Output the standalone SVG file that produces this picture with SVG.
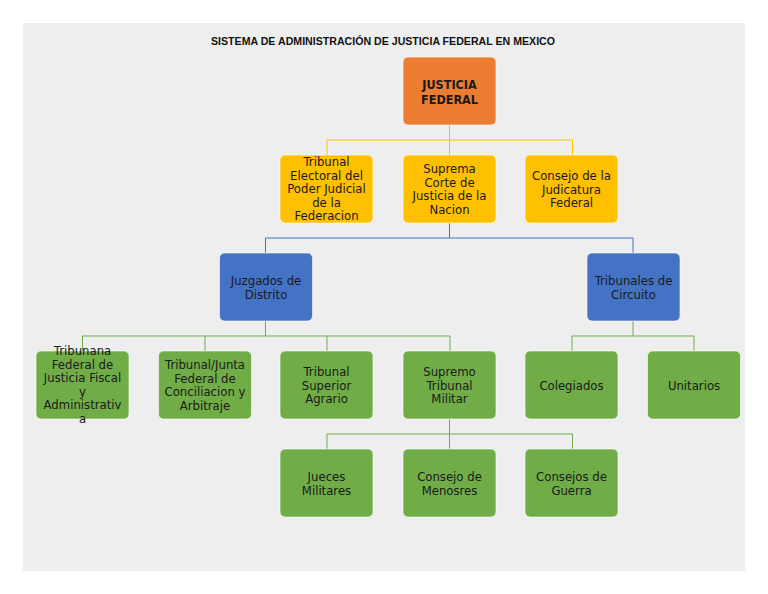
<svg xmlns="http://www.w3.org/2000/svg" width="768" height="594" viewBox="0 0 768 594">
<style>
.bx{stroke:#ffffff;stroke-opacity:0.6;stroke-width:1}
.or{fill:#ED7D31}.ye{fill:#FFC000}.bl{fill:#4472C4}.gr{fill:#70AD47}
.t{font-family:"DejaVu Sans",sans-serif;font-size:11.7px;fill:#1a1a1a;text-anchor:middle}
.tb{font-family:"DejaVu Sans Condensed","DejaVu Sans",sans-serif;font-weight:bold;font-size:12.5px;fill:#1a1a1a;text-anchor:middle}
.c{fill:none;stroke-width:1}
</style>
<rect x="0" y="0" width="768" height="594" fill="#ffffff"/>
<rect x="23" y="23" width="722" height="548" fill="#EEEEEE"/>
<text x="383" y="44.5" font-family="Liberation Sans,Arial,sans-serif" font-weight="bold" font-size="10" fill="#111" text-anchor="middle" textLength="344" lengthAdjust="spacingAndGlyphs">SISTEMA DE ADMINISTRACIÓN DE JUSTICIA FEDERAL EN MEXICO</text>
<g id="connectors">
<path class="c" stroke="#FFC000" d="M449.5 125V140M327 140H572.5M327 140V155M449.5 140V155M572.5 140V155"/>
<path class="c" stroke="#4472C4" d="M449.5 223V238M265.5 238H633M265.5 238V253M633 238V253"/>
<path class="c" stroke="#70AD47" d="M265.5 321V336M82.5 336H450M82.5 336V351M205 336V351M327 336V351M450 336V351"/>
<path class="c" stroke="#70AD47" d="M633 321V336M572 336H694M572 336V351M694 336V351"/>
<path class="c" stroke="#70AD47" d="M449.5 419V434M327 434H572.5M327 434V449M449.5 434V449M572.5 434V449"/>
</g>
<g id="justicia"><rect class="bx or" x="403" y="57" width="93" height="68" rx="5"/><text class="tb" x="449.5" y="89">JUSTICIA</text><text class="tb" x="449.5" y="103.5">FEDERAL</text></g>
<g id="tribunal-electoral"><rect class="bx ye" x="280" y="155" width="93" height="68" rx="5"/><text class="t" x="326.5"><tspan x="326.5" y="166">Tribunal</tspan><tspan x="326.5" y="179.5">Electoral del</tspan><tspan x="326.5" y="193">Poder Judicial</tspan><tspan x="326.5" y="206.5">de la</tspan><tspan x="326.5" y="220">Federacion</tspan></text></g>
<g id="suprema-corte"><rect class="bx ye" x="403" y="155" width="93" height="68" rx="5"/><text class="t"><tspan x="449.5" y="173">Suprema</tspan><tspan x="449.5" y="186.5">Corte de</tspan><tspan x="449.5" y="200">Justicia de la</tspan><tspan x="449.5" y="213.5">Nacion</tspan></text></g>
<g id="consejo-judicatura"><rect class="bx ye" x="525" y="155" width="93" height="68" rx="5"/><text class="t"><tspan x="571.5" y="180">Consejo de la</tspan><tspan x="571.5" y="193.5">Judicatura</tspan><tspan x="571.5" y="207">Federal</tspan></text></g>
<g id="juzgados"><rect class="bx bl" x="219.5" y="253" width="93" height="68" rx="5"/><text class="t"><tspan x="266" y="285">Juzgados de</tspan><tspan x="266" y="298.5">Distrito</tspan></text></g>
<g id="tribunales-circuito"><rect class="bx bl" x="587" y="253" width="93" height="68" rx="5"/><text class="t"><tspan x="633.5" y="285">Tribunales de</tspan><tspan x="633.5" y="298.5">Circuito</tspan></text></g>
<g id="tribunana-fiscal"><rect class="bx gr" x="36" y="351" width="93" height="68" rx="5"/><text class="t"><tspan x="82.5" y="355">Tribunana</tspan><tspan x="82.5" y="368.5">Federal de</tspan><tspan x="82.5" y="382">Justicia Fiscal</tspan><tspan x="82.5" y="395.5">y</tspan><tspan x="82.5" y="409">Administrativ</tspan><tspan x="82.5" y="422.5">a</tspan></text></g>
<g id="tribunal-junta"><rect class="bx gr" x="158.5" y="351" width="93" height="68" rx="5"/><text class="t"><tspan x="205" y="369">Tribunal/Junta</tspan><tspan x="205" y="382.5">Federal de</tspan><tspan x="205" y="396">Conciliacion y</tspan><tspan x="205" y="409.5">Arbitraje</tspan></text></g>
<g id="tribunal-agrario"><rect class="bx gr" x="280" y="351" width="93" height="68" rx="5"/><text class="t"><tspan x="326.5" y="376">Tribunal</tspan><tspan x="326.5" y="389.5">Superior</tspan><tspan x="326.5" y="403">Agrario</tspan></text></g>
<g id="supremo-militar"><rect class="bx gr" x="403" y="351" width="93" height="68" rx="5"/><text class="t"><tspan x="449.5" y="376">Supremo</tspan><tspan x="449.5" y="389.5">Tribunal</tspan><tspan x="449.5" y="403">Militar</tspan></text></g>
<g id="colegiados"><rect class="bx gr" x="525" y="351" width="93" height="68" rx="5"/><text class="t" x="571.5" y="389.5">Colegiados</text></g>
<g id="unitarios"><rect class="bx gr" x="647.5" y="351" width="93" height="68" rx="5"/><text class="t" x="694" y="389.5">Unitarios</text></g>
<g id="jueces-militares"><rect class="bx gr" x="280" y="449" width="93" height="68" rx="5"/><text class="t"><tspan x="326.5" y="481">Jueces</tspan><tspan x="326.5" y="494.5">Militares</tspan></text></g>
<g id="consejo-menores"><rect class="bx gr" x="403" y="449" width="93" height="68" rx="5"/><text class="t"><tspan x="449.5" y="481">Consejo de</tspan><tspan x="449.5" y="494.5">Menosres</tspan></text></g>
<g id="consejos-guerra"><rect class="bx gr" x="525" y="449" width="93" height="68" rx="5"/><text class="t"><tspan x="571.5" y="481">Consejos de</tspan><tspan x="571.5" y="494.5">Guerra</tspan></text></g>
</svg>
